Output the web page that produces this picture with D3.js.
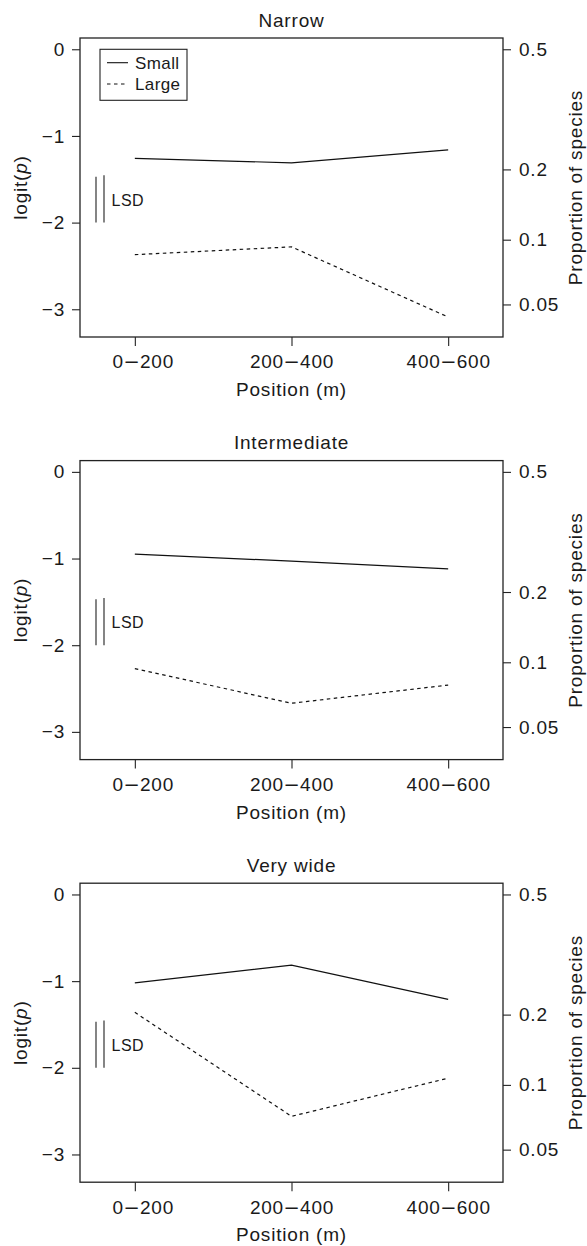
<!DOCTYPE html>
<html>
<head>
<meta charset="utf-8">
<script src="https://cdn.jsdelivr.net/npm/d3@7"></script>
<style>
  body { margin: 0; background: #fff; }
  svg text { font-family: "Liberation Sans", Arial, Helvetica, sans-serif; fill: #1a1a1a; }
</style>
</head>
<body>
<svg id="chart"></svg>
<script>
"use strict";

// panel titles, positions and values (logit scale)
var panels = ["Narrow", "Intermediate", "Very wide"];
var positions = ["0\u2013200", "200\u2013400", "400\u2013600"];
var smallValues = [
  [-1.26, -1.31, -1.16],
  [-0.95, -1.03, -1.12],
  [-1.02, -0.815, -1.21]
];
var largeValues = [
  [-2.37, -2.28, -3.09],
  [-2.27, -2.67, -2.46],
  [-1.36, -2.56, -2.12]
];
var lsdValues = [0.53, 0.545];
var logitTicks = [0, -1, -2, -3];
var propTicks = [0.5, 0.2, 0.1, 0.05];
var seriesNames = ["Small", "Large"];

var width = 587
  , height = 1246
  , panelStep = 422.6
  , box = { left: 80, right: 503, top: 38, bottom: 337 };

var svg = d3.select("#chart")
  .attr("width", width)
  .attr("height", height);

var x = d3.scalePoint()
  .domain(positions)
  .range([box.left, box.right])
  .padding(0.35);

var y = d3.scaleLinear()
  .domain([-3.32, 0.13])
  .range([box.bottom, box.top]);

function logit(p) { return Math.log(p / (1 - p)); }

var line = d3.line()
  .x(function (d, i) { return x(positions[i]); })
  .y(function (d) { return y(d); });

panels.forEach(function (name, k) {
  var g = svg.append("g")
    .attr("transform", "translate(0," + (k * panelStep) + ")");

  // axes
  var left = g.append("g")
    .attr("transform", "translate(" + box.left + ",0)")
    .call(d3.axisLeft(y).tickValues(logitTicks).tickSize(8).tickPadding(7)
      .tickFormat(function (d) { return d < 0 ? "\u2212" + Math.abs(d) : d; }));

  var right = g.append("g")
    .attr("transform", "translate(" + box.right + ",0)")
    .call(d3.axisRight(y).tickValues(propTicks.map(logit)).tickSize(8).tickPadding(8)
      .tickFormat(function (d, i) { return propTicks[i]; }));

  var bottom = g.append("g")
    .attr("transform", "translate(0," + box.bottom + ")")
    .call(d3.axisBottom(x).tickSize(9).tickPadding(9));

  [left, right, bottom].forEach(function (a) {
    a.select(".domain").remove();
    a.selectAll("line").attr("stroke", "#222").attr("stroke-width", 1.1);
    a.selectAll("text")
      .attr("fill", "#1a1a1a")
      .style("font-size", "19px")
      .style("letter-spacing", "0.8px");
  });

  // slightly longer dash with a little room either side
  bottom.selectAll(".tick text").each(function (d, i) {
    var parts = d.split("\u2013");
    var t = d3.select(this).text(null);
    if (i === 0) t.attr("x", 8);
    t.append("tspan").text(parts[0]);
    t.append("tspan").attr("dx", 1.5).style("font-size", "22px").text("\u2013");
    t.append("tspan").attr("dx", 1.5).text(parts[1]);
  });

  // frame
  g.append("rect")
    .attr("x", box.left)
    .attr("y", box.top)
    .attr("width", box.right - box.left)
    .attr("height", box.bottom - box.top)
    .attr("fill", "none")
    .attr("stroke", "#222")
    .attr("stroke-width", 1.3);

  // title
  g.append("text")
    .attr("x", (box.left + box.right) / 2)
    .attr("y", 26.7)
    .attr("text-anchor", "middle")
    .style("font-size", "19px")
    .style("letter-spacing", "0.8px")
    .text(name);

  // x label
  g.append("text")
    .attr("x", (box.left + box.right) / 2)
    .attr("y", 396)
    .attr("text-anchor", "middle")
    .style("font-size", "19px")
    .style("letter-spacing", "0.8px")
    .text("Position (m)");

  // left y label
  var yl = g.append("text")
    .attr("transform", "translate(27," + ((box.top + box.bottom) / 2) + ") rotate(-90)")
    .attr("text-anchor", "middle")
    .style("font-size", "19px")
    .style("letter-spacing", "0.8px");
  yl.append("tspan").text("logit(");
  yl.append("tspan").style("font-style", "italic").text("p");
  yl.append("tspan").text(")");

  // right y label
  g.append("text")
    .attr("transform", "translate(582," + ((box.top + box.bottom) / 2) + ") rotate(-90)")
    .attr("text-anchor", "middle")
    .style("font-size", "19px")
    .style("letter-spacing", "0.8px")
    .text("Proportion of species");

  // series
  g.append("path")
    .datum(smallValues[k])
    .attr("d", line)
    .attr("fill", "none")
    .attr("stroke", "#111")
    .attr("stroke-width", 1.2);

  g.append("path")
    .datum(largeValues[k])
    .attr("d", line)
    .attr("fill", "none")
    .attr("stroke", "#111")
    .attr("stroke-width", 1.2)
    .attr("stroke-dasharray", "3.5,3.5");

  // LSD bars
  g.selectAll(".lsd")
    .data(lsdValues)
    .enter()
    .append("line")
    .attr("x1", function (d, i) { return 96 + i * 8; })
    .attr("x2", function (d, i) { return 96 + i * 8; })
    .attr("y1", y(-2))
    .attr("y2", function (d) { return y(-2 + d); })
    .attr("stroke", "#333")
    .attr("stroke-width", 1.2);

  g.append("text")
    .attr("x", 111.5)
    .attr("y", y(-2 + lsdValues[0] / 2) + 6)
    .style("font-size", "16px")
    .style("letter-spacing", "0.5px")
    .text("LSD");

  // legend, first panel only
  if (k === 0) {
    var lg = g.append("g");
    lg.append("rect")
      .attr("x", 100)
      .attr("y", 49.3)
      .attr("width", 87)
      .attr("height", 51)
      .attr("fill", "#fff")
      .attr("stroke", "#222")
      .attr("stroke-width", 1.1);
    seriesNames.forEach(function (s, i) {
      var ly = 62.7 + i * 21.3;
      lg.append("line")
        .attr("x1", 107).attr("x2", 128)
        .attr("y1", ly).attr("y2", ly)
        .attr("stroke", "#111")
        .attr("stroke-width", 1.1)
        .attr("stroke-dasharray", i === 1 ? "3.5,3.5" : null);
      lg.append("text")
        .attr("x", 135)
        .attr("y", ly + 6.2)
        .style("font-size", "17px")
        .style("letter-spacing", "0.4px")
        .text(s);
    });
  }
});
</script>
</body>
</html>
